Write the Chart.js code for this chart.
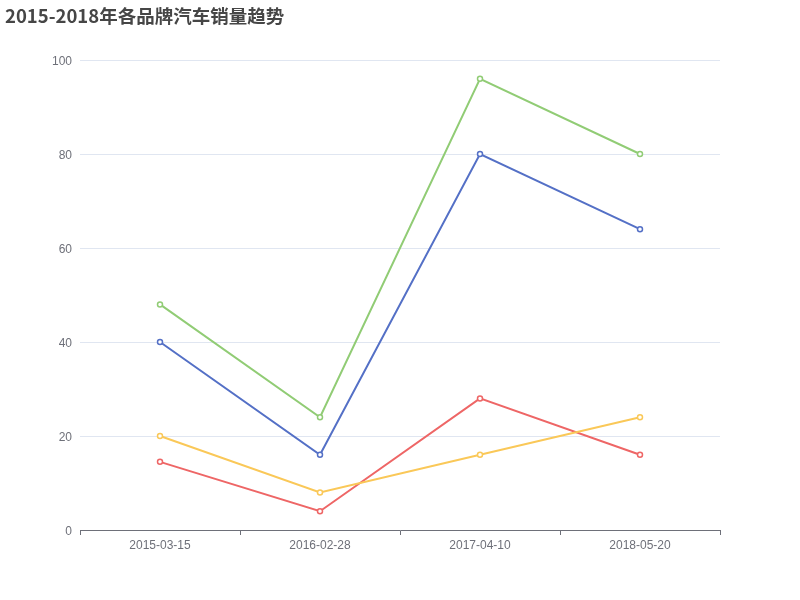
<!DOCTYPE html>
<html>
<head>
<meta charset="utf-8">
<script src="https://cdn.jsdelivr.net/npm/chart.js@4/dist/chart.umd.min.js"></script>
<style>
  html, body { margin: 0; padding: 0; background: #fff; }
  #wrap { width: 800px; height: 600px; }
</style>
</head>
<body>
<div id="wrap"><canvas id="lineChart" width="800" height="600"></canvas></div>
<script>
// chart values
const titleText = '2015-2018年各品牌汽车销量趋势';
const categories = ['2015-03-15', '2016-02-28', '2017-04-10', '2018-05-20'];
const seriesNames = ['品牌A', '品牌B', '品牌C', '品牌D'];
const blueValues = [40, 16, 80, 64];
const greenValues = [48, 24, 96, 80];
const yellowValues = [20, 8, 16, 24];
const redValues = [14.5, 4, 28, 16];
const yMin = 0;
const yMax = 100;
const yStep = 20;

const colors = ['#5470c6', '#91cc75', '#fac858', '#ee6666'];
const allValues = [blueValues, greenValues, yellowValues, redValues];

const axisColor = '#6e7079';
const gridColor = '#e0e6f1';
const font = "'Liberation Sans', 'Noto Sans CJK SC', sans-serif";

const datasets = allValues.map((vals, i) => ({
  label: seriesNames[i],
  data: vals,
  borderColor: colors[i],
  backgroundColor: '#ffffff',
  pointBackgroundColor: '#ffffff',
  pointBorderColor: colors[i],
  pointRadius: 2.5,
  pointBorderWidth: 1.5,
  borderWidth: 2,
  tension: 0,
  fill: false,
}));

const ctx = document.getElementById('lineChart').getContext('2d');
new Chart(ctx, {
  type: 'line',
  data: { labels: categories, datasets: datasets },
  options: {
    responsive: false,
    animation: false,
    layout: { padding: { left: 5, right: 80, top: 0, bottom: 0 } },
    plugins: {
      legend: { display: false },
      tooltip: { enabled: false },
      title: {
        display: true,
        text: titleText,
        align: 'start',
        color: '#464646',
        font: { family: "'Noto Sans CJK SC', sans-serif", size: 18.5, weight: 'bold', lineHeight: 1.2 },
        padding: { top: 5, bottom: 32.8 },
      },
    },
    scales: {
      x: {
        offset: true,
        grid: {
          offset: true,
          drawOnChartArea: false,
          drawTicks: true,
          tickLength: 5,
          tickColor: axisColor,
        },
        border: { display: true, color: axisColor, width: 1 },
        ticks: { color: axisColor, font: { family: font, size: 12 }, padding: 3, maxRotation: 0 },
        afterFit: (scale) => { scale.height = 70; },
      },
      y: {
        min: yMin,
        max: yMax,
        grid: { color: gridColor, drawTicks: false },
        border: { display: false },
        ticks: { stepSize: yStep, color: axisColor, font: { family: font, size: 12 }, padding: 8, labelOffset: 1.5 },
        afterFit: (scale) => { scale.width = 75; },
      },
    },
  },
});
</script>
</body>
</html>
